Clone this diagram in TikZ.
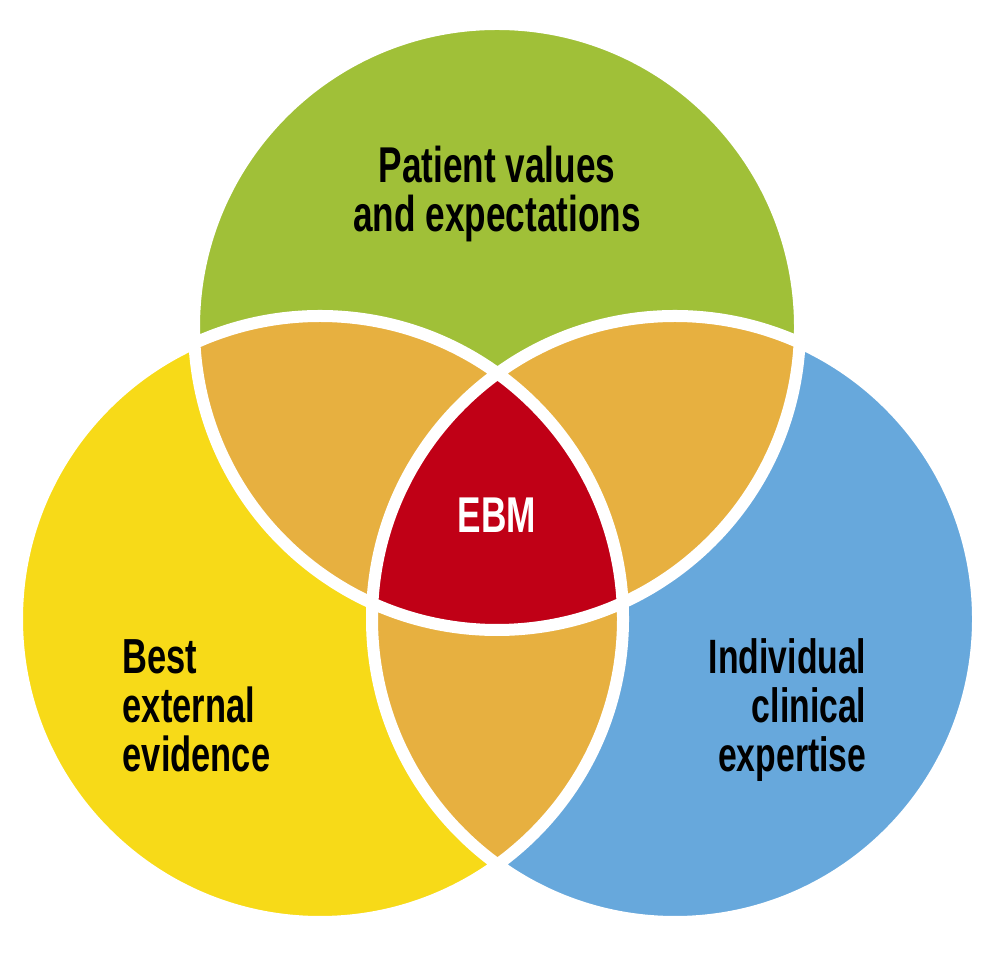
\documentclass[tikz,border=0pt]{standalone}
\usepackage{fontspec}
\newfontfamily\vennfont[FakeStretch=0.7]{Liberation Sans}
\usetikzlibrary{positioning}
\definecolor{patientgreen}{RGB}{160,192,56}
\definecolor{evidenceyellow}{RGB}{247,218,24}
\definecolor{expertblue}{RGB}{103,168,220}
\definecolor{overlaporange}{RGB}{231,176,64}
\definecolor{ebmred}{RGB}{192,0,22}
\newcommand{\vennr}{303}

\begin{document}
\begin{tikzpicture}[x=0.01cm,y=0.01cm]
	\useasboundingbox (0,0) rectangle (1004,955);
	\coordinate (pv) at (497,628);
	\coordinate (ee) at (320,336);
	\coordinate (ce) at (675,336);
	% circles
	\fill[patientgreen] (pv) circle[radius=\vennr];
	\fill[evidenceyellow] (ee) circle[radius=\vennr];
	\fill[expertblue] (ce) circle[radius=\vennr];
	% pairwise overlaps
	\begin{scope}
		\clip (pv) circle[radius=\vennr];
		\fill[overlaporange] (ee) circle[radius=\vennr];
		\fill[overlaporange] (ce) circle[radius=\vennr];
	\end{scope}
	\begin{scope}
		\clip (ee) circle[radius=\vennr];
		\fill[overlaporange] (ce) circle[radius=\vennr];
	\end{scope}
	% centre
	\begin{scope}
		\clip (pv) circle[radius=\vennr];
		\clip (ee) circle[radius=\vennr];
		\fill[ebmred] (ce) circle[radius=\vennr];
	\end{scope}
	\draw[white, line width=0.12cm] (pv) circle[radius=\vennr] (ee) circle[radius=\vennr] (ce) circle[radius=\vennr];
	\node[font=\vennfont\bfseries\fontsize{14.3}{14}\selectfont, align=center] (patient) at (497,761) {Patient values\\and expectations};
	\node[font=\vennfont\bfseries\fontsize{14}{14}\selectfont, align=left, anchor=west, inner sep=0pt] (evidence) at (122,249) {Best\\external\\evidence};
	\node[font=\vennfont\bfseries\fontsize{13.7}{14}\selectfont, align=right, anchor=east, inner sep=0pt] (expertise) at (867,245) {Individual\\clinical\\expertise};
	\node[font=\vennfont\bfseries\fontsize{14.3}{14}\selectfont, text=white] (ebm) at (497,440) {EBM};
\end{tikzpicture}
\end{document}
